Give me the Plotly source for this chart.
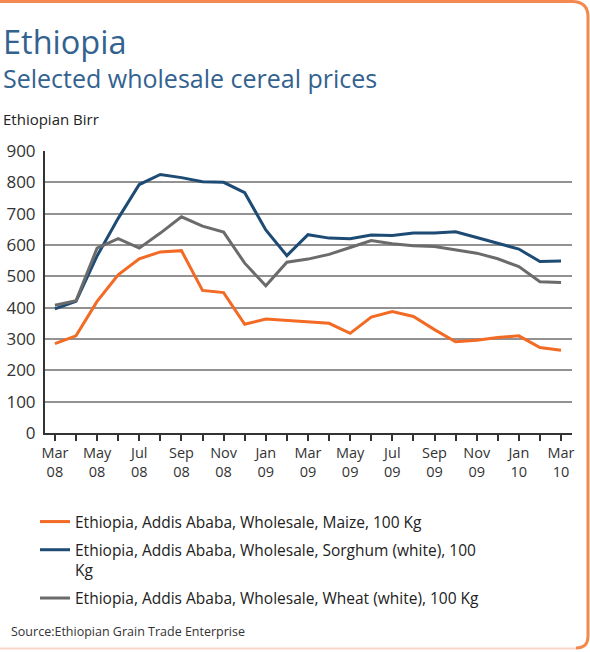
import plotly.graph_objects as go

# Monthly wholesale prices, Addis Ababa (Ethiopian Birr per 100 Kg), Mar 2008 - Mar 2010
months = ["Mar 08", "Apr 08", "May 08", "Jun 08", "Jul 08", "Aug 08", "Sep 08", "Oct 08",
          "Nov 08", "Dec 08", "Jan 09", "Feb 09", "Mar 09", "Apr 09", "May 09", "Jun 09",
          "Jul 09", "Aug 09", "Sep 09", "Oct 09", "Nov 09", "Dec 09", "Jan 10", "Feb 10",
          "Mar 10"]

maize = [285, 310, 420, 505, 556, 578, 582, 455, 448, 347, 364, 359,
         355, 350, 318, 370, 388, 372, 330, 291, 296, 305, 310, 273, 264]
sorghum = [396, 420, 565, 685, 793, 825, 815, 802, 800, 767, 648, 566,
           633, 622, 620, 632, 630, 638, 638, 642, 624, 606, 587, 547, 549]
wheat = [408, 422, 590, 620, 590, 638, 690, 660, 641, 542, 470, 545,
         555, 570, 592, 614, 604, 598, 595, 585, 574, 556, 531, 483, 480]

series_names = [
    "Ethiopia, Addis Ababa, Wholesale, Maize, 100 Kg",
    "Ethiopia, Addis Ababa, Wholesale, Sorghum (white), 100<br>Kg",
    "Ethiopia, Addis Ababa, Wholesale, Wheat (white), 100 Kg",
]
series_colors = ["#f26a24", "#1d4b74", "#6b6b6b"]

y_ticks = [0, 100, 200, 300, 400, 500, 600, 700, 800, 900]

W, H = 590, 652
ML, MR, MT, MB = 45, 18, 151, 219
PW, PH = W - ML - MR, H - MT - MB


def px(x):
    return (x - ML) / PW


def py(y):
    return (H - MB - y) / PH


x_idx = list(range(len(months)))
tick_text = [m.replace(" ", "<br>") if i % 2 == 0 else "" for i, m in enumerate(months)]

fig = go.Figure()
for i, (vals, name, col) in enumerate(zip([maize, sorghum, wheat], series_names, series_colors)):
    fig.add_trace(go.Scatter(
        x=x_idx, y=vals, mode="lines", name=name, legendgroup=f"g{i}",
        line=dict(color=col, width=3), hoverinfo="skip",
    ))

font_family = "Open Sans, Lato, sans-serif"
title_color = "#33628f"

fig.update_layout(
    width=W, height=H,
    margin=dict(l=ML, r=MR, t=MT, b=MB, pad=0, autoexpand=False),
    paper_bgcolor="white", plot_bgcolor="white",
    font=dict(family=font_family, size=14, color="#333333"),
    showlegend=True,
    legend=dict(
        x=px(35), y=py(505), xanchor="left", yanchor="top",
        font=dict(size=15.5, color="#222222"), traceorder="grouped",
        tracegroupgap=5, valign="top", bgcolor="rgba(0,0,0,0)",
    ),
    xaxis=dict(
        range=[-0.47, 24.52], tickmode="array", tickvals=x_idx, ticktext=tick_text,
        ticks="outside", ticklen=6, tickwidth=1.5, tickcolor="#333333",
        showline=True, linecolor="#333333", linewidth=2,
        showgrid=False, zeroline=False, automargin=False,
        tickfont=dict(size=14.5, color="#333333"),
    ),
    yaxis=dict(
        range=[0, 900], tickmode="array", tickvals=y_ticks,
        showline=True, linecolor="#333333", linewidth=2,
        showgrid=True, gridcolor="#929292", gridwidth=1.5,
        zeroline=False, ticks="", ticklabelstandoff=4, automargin=False,
        tickfont=dict(size=17, color="#333333"),
    ),
)

annotations = [
    dict(text="Ethiopia", x=px(1), y=py(41), size=32.5, color=title_color),
    dict(text="Selected wholesale cereal prices", x=px(1), y=py(78), size=25, color=title_color),
    dict(text="Ethiopian Birr", x=px(1), y=py(119), size=15, color="#222222"),
    dict(text="Source:Ethiopian Grain Trade Enterprise", x=px(9), y=py(631), size=12.5, color="#333333"),
]
for a in annotations:
    fig.add_annotation(
        text=a["text"], x=a["x"], y=a["y"], xref="paper", yref="paper",
        xanchor="left", yanchor="middle", showarrow=False,
        font=dict(size=a["size"], color=a["color"], family=font_family),
    )

# Card outline: orange top and right edges with rounded corners, pale bottom edge
fig.add_shape(
    type="path", xref="paper", yref="paper",
    path=(f"M {px(0)},{py(1.5)} L {px(572)},{py(1.5)} "
          f"Q {px(588)},{py(1.5)} {px(588)},{py(17)} "
          f"L {px(588)},{py(636)} Q {px(588)},{py(648)} {px(576)},{py(648)}"),
    line=dict(color="#f4894f", width=3), layer="above",
)
fig.add_shape(
    type="line", xref="paper", yref="paper",
    x0=px(0), x1=px(576), y0=py(648.5), y1=py(648.5),
    line=dict(color="#f6d6c8", width=2), layer="above",
)

fig.write_html("out.html")
